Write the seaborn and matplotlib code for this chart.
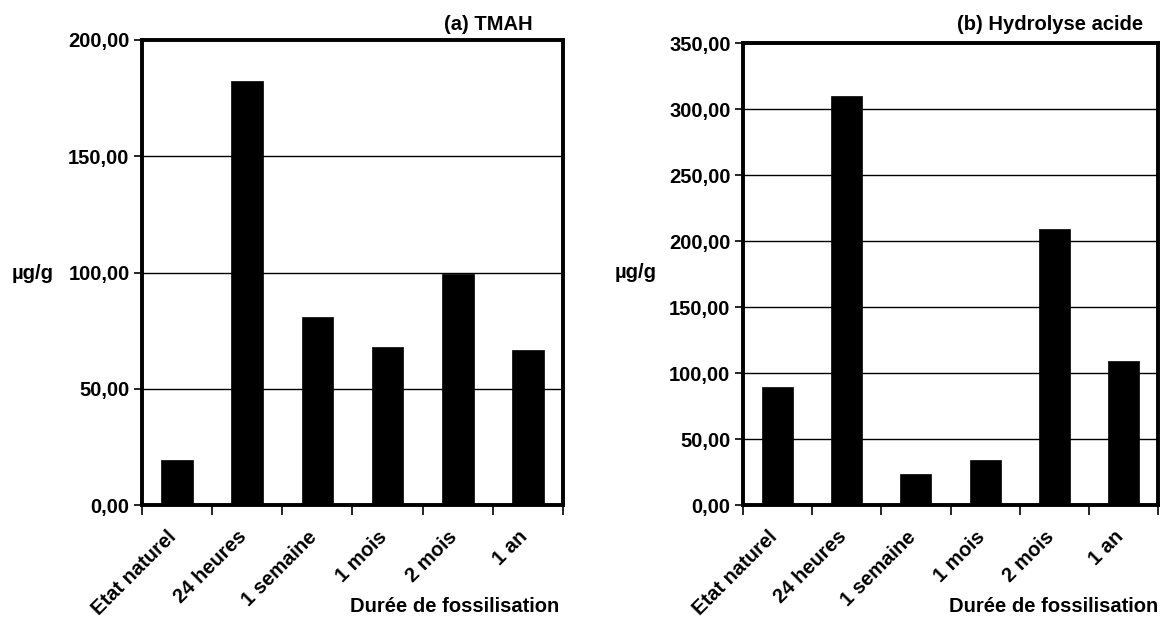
import matplotlib
matplotlib.use("Agg")
import matplotlib.pyplot as plt
import matplotlib.transforms as mtransforms
import seaborn as sns
import pandas as pd
from matplotlib.ticker import FuncFormatter, FixedLocator

categories = ["Etat naturel", "24 heures", "1 semaine", "1 mois", "2 mois", "1 an"]
tmah_values = [19.2, 182.2, 80.8, 68.1, 99.5, 66.7]
acid_values = [89.6, 309.5, 23.7, 33.9, 209.2, 109.1]
tmah_ticks = [0, 50, 100, 150, 200]
acid_ticks = [0, 50, 100, 150, 200, 250, 300, 350]

sns.set_theme(style="white")
plt.rcParams['font.family'] = ['Liberation Sans', 'DejaVu Sans']
plt.rcParams['font.weight'] = 'bold'
plt.rcParams['text.color'] = 'black'
plt.rcParams['xtick.color'] = 'black'
plt.rcParams['ytick.color'] = 'black'

FS = 14.5
W, H = 1160, 619

fig = plt.figure(figsize=(11.6, 6.19), dpi=100)
ax1 = fig.add_axes([142/W, 1-505/H, 421/W, 465/H])
ax2 = fig.add_axes([743/W, 1-505/H, 415/W, 462/H])

fmt = FuncFormatter(lambda v, p: f"{v:.2f}".replace(".", ","))

def style(ax, values, yticks, title, title_x, xlabel_x):
    df = pd.DataFrame({"cat": categories, "val": values})
    sns.barplot(data=df, x="cat", y="val", color="black", width=0.45,
                saturation=1, ax=ax, zorder=3, edgecolor="black", linewidth=0.5)
    ax.set_ylim(yticks[0], yticks[-1])
    ax.set_xlim(-0.5, len(categories) - 0.5)
    ax.set_yticks(yticks)
    ax.yaxis.set_major_formatter(fmt)
    ax.yaxis.grid(True, color="black", linewidth=1.0, zorder=0)
    ax.xaxis.grid(False)
    for s in ax.spines.values():
        s.set_visible(True)
        s.set_color("black")
        s.set_linewidth(2.8)
    ax.tick_params(axis="y", which="major", left=True, length=6, width=1.2,
                   color="black", labelsize=FS, pad=3, labelcolor="black")
    ax.tick_params(axis="x", which="major", bottom=False, length=0, labelsize=FS,
                   pad=16, labelcolor="black")
    ax.xaxis.set_minor_locator(FixedLocator([i - 0.5 for i in range(len(categories) + 1)]))
    ax.tick_params(axis="x", which="minor", bottom=True, length=7, width=1.2, color="black")
    ax.set_xticks(range(len(categories)))
    ax.set_xticklabels(categories, rotation=45, ha="right", rotation_mode="anchor",
                       fontweight="bold")
    shift = mtransforms.ScaledTranslation(-0.10, 0, fig.dpi_scale_trans)
    for lab in ax.get_xticklabels():
        lab.set_transform(lab.get_transform() + shift)
    for lab in ax.get_yticklabels():
        lab.set_fontweight("bold")
    ax.set_xlabel("")
    ax.set_ylabel("")
    fig.text(title_x / W, 1 - 25/H, title, ha="right", va="center",
             fontsize=FS, fontweight="bold")
    fig.text(xlabel_x / W, 1 - 607/H, "Durée de fossilisation",
             ha="right", va="center", fontsize=FS, fontweight="bold")

style(ax1, tmah_values, tmah_ticks, "(a) TMAH", 533, 559)
style(ax2, acid_values, acid_ticks, "(b) Hydrolyse acide", 1143, 1158)

fig.text(12/W, 1-274/H, "µg/g", ha="left", va="center", fontsize=FS, fontweight="bold")
fig.text(615/W, 1-273/H, "µg/g", ha="left", va="center", fontsize=FS, fontweight="bold")

fig.savefig("out.png", dpi=100, facecolor="white")
